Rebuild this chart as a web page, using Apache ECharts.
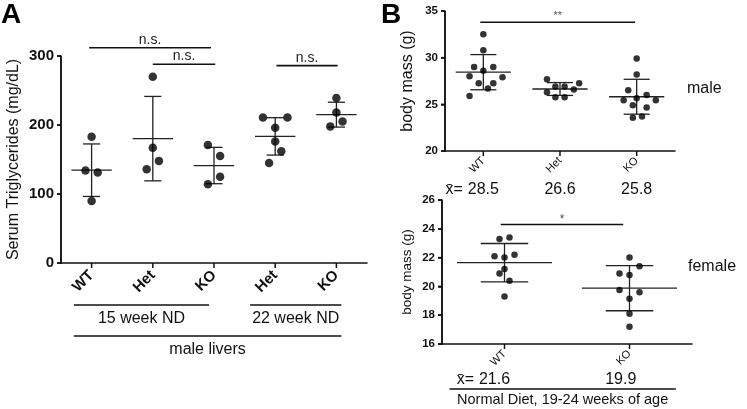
<!DOCTYPE html>
<html>
<head>
<meta charset="UTF-8">
<title>triglycerides and body mass</title>
<script src="https://cdn.jsdelivr.net/npm/echarts@6/dist/echarts.min.js"></script>
<style>
  html, body { margin: 0; padding: 0; background: #fff; }
  #main { width: 747px; height: 409px; }
</style>
</head>
<body>
<div id="main"></div>
<script>
// ---- panel A: serum triglycerides (mg/dL)
var catA = ['WT', 'Het', 'KO', 'Het', 'KO'];
var trigWT15  = [183, 134, 131, 90];
var trigHet15 = [270, 167, 148, 136];
var trigKO15  = [171, 155, 125, 114];
var trigHet22 = [211, 211, 196, 176, 162, 145];
var trigKO22  = [239, 218, 205, 198];
var trigTicks = [0, 100, 200, 300];

// ---- panel B: body mass (g)
var catMale = ['WT', 'Het', 'KO'];
var maleWT  = [32.5, 30.8, 29.0, 29.0, 28.6, 28.0, 27.9, 27.25, 27.25, 26.7, 25.9];
var maleHet = [27.7, 27.25, 26.9, 26.9, 26.6, 26.3, 25.75, 25.75];
var maleKO  = [29.9, 28.2, 26.5, 26.0, 25.45, 25.65, 25.45, 24.9, 24.65, 23.55, 23.7];
var maleMeans = ['28.5', '26.6', '25.8'];
var maleTicks = [20, 25, 30, 35];

var catFemale = ['WT', 'KO'];
var femaleWT = [23.3, 23.4, 22.1, 22.2, 22.0, 21.2, 20.9, 20.4, 19.3];
var femaleKO = [22.0, 21.4, 20.9, 20.8, 19.75, 19.6, 19.15, 18.1, 17.2];
var femaleMeans = ['21.6', '19.9'];
var femaleTicks = [16, 18, 20, 22, 24, 26];

// horizontal spread of the dots inside a column (layout only)
var jitA = [
  [0, -0.1, 0.1, 0],
  [0, 0, 0.1, -0.1],
  [-0.1, 0.1, 0.1, -0.1],
  [-0.2, 0.2, 0, 0, 0.1, -0.1],
  [0, 0, 0.1, -0.1]
];
var jitMale = [
  [0, 0, -0.12, 0.13, 0, -0.18, 0.25, -0.06, 0.13, 0.06, -0.18],
  [-0.17, 0.25, -0.06, 0.06, 0.18, -0.17, -0.06, 0.06],
  [0, 0, -0.11, 0.13, -0.17, 0, 0.25, -0.05, 0.13, -0.05, 0.07]
];
var jitFemale = [
  [-0.04, 0.04, -0.08, 0.08, 0, 0, -0.04, 0.04, 0],
  [0, 0.08, -0.08, 0, -0.08, 0.08, 0, 0, 0]
];

var FONT = 'Liberation Sans, Arial, DejaVu Sans, sans-serif';

function mean(a) {
  var s = 0;
  for (var i = 0; i < a.length; i++) s += a[i];
  return s / a.length;
}
function sd(a) {
  var m = mean(a), s = 0;
  for (var i = 0; i < a.length; i++) s += (a[i] - m) * (a[i] - m);
  return Math.sqrt(s / (a.length - 1));
}

function dots(groups, jit) {
  var out = [];
  for (var g = 0; g < groups.length; g++) {
    for (var k = 0; k < groups[g].length; k++) {
      out.push([g + jit[g][k], groups[g][k]]);
    }
  }
  return out;
}
function bars(groups) {
  return groups.map(function (a, g) {
    var m = mean(a), s = sd(a);
    return [g, m, m - s, m + s];
  });
}

function errRender(meanW, capW) {
  return function (params, api) {
    var c = api.value(0);
    var pm = api.coord([c, api.value(1)]);
    var pl = api.coord([c, api.value(2)]);
    var ph = api.coord([c, api.value(3)]);
    var u = api.size([1, 0])[0];
    var st = { stroke: '#222', lineWidth: 1.3 };
    return {
      type: 'group',
      children: [
        { type: 'line', shape: { x1: pm[0] - meanW * u, y1: pm[1], x2: pm[0] + meanW * u, y2: pm[1] }, style: st },
        { type: 'line', shape: { x1: pl[0], y1: pl[1], x2: ph[0], y2: ph[1] }, style: st },
        { type: 'line', shape: { x1: pl[0] - capW * u, y1: pl[1], x2: pl[0] + capW * u, y2: pl[1] }, style: st },
        { type: 'line', shape: { x1: ph[0] - capW * u, y1: ph[1], x2: ph[0] + capW * u, y2: ph[1] }, style: st }
      ]
    };
  };
}

// significance bar; the first item also draws the y spine and the outward ticks
function sigRender(fontSize, color, gap, ticks, ncol) {
  return function (params, api) {
    var p1 = api.coord([api.value(0), api.value(2)]);
    var p2 = api.coord([api.value(1), api.value(2)]);
    var kids = [
      { type: 'line', shape: { x1: p1[0], y1: p1[1], x2: p2[0], y2: p2[1] }, style: { stroke: '#111', lineWidth: 1.6 } },
      { type: 'text', x: (p1[0] + p2[0]) / 2, y: p1[1] - gap,
        style: { text: api.value(3), fill: color, font: fontSize + 'px ' + FONT, align: 'center', verticalAlign: 'middle' } }
    ];
    if (params.dataIndex === 0) {
      var cs = params.coordSys;
      var b = cs.y + cs.height;
      var st = { stroke: '#111', lineWidth: 1.5 };
      kids.push({ type: 'line', shape: { x1: cs.x, y1: cs.y, x2: cs.x, y2: b + 0.75 }, style: st });
      for (var i = 0; i < ticks.length; i++) {
        var y = api.coord([0, ticks[i]])[1];
        kids.push({ type: 'line', shape: { x1: cs.x - 4, y1: y, x2: cs.x, y2: y }, style: st });
      }
      for (var c = 0; c < ncol; c++) {
        var x = api.coord([c, ticks[0]])[0];
        kids.push({ type: 'line', shape: { x1: x, y1: b, x2: x, y2: b + 5 }, style: st });
      }
    }
    return { type: 'group', children: kids };
  };
}

// line + caption below the x axis; value(2) = pixels under the axis
function underRender(fontSize, textGap) {
  return function (params, api) {
    var cs = params.coordSys;
    var bottom = cs.y + cs.height + api.value(2);
    var x1 = api.coord([api.value(0), 0])[0];
    var x2 = api.coord([api.value(1), 0])[0];
    return {
      type: 'group',
      children: [
        { type: 'line', shape: { x1: x1, y1: bottom, x2: x2, y2: bottom }, style: { stroke: '#111', lineWidth: 1.6 } },
        { type: 'text', x: (x1 + x2) / 2, y: bottom + textGap,
          style: { text: api.value(3), fill: '#111', font: fontSize + 'px ' + FONT, align: 'center', verticalAlign: 'middle' } }
      ]
    };
  };
}

// x-bar mean captions under panel B columns
function meanRender(dy) {
  return function (params, api) {
    var cs = params.coordSys;
    var x = api.coord([api.value(0), 0])[0];
    var y = cs.y + cs.height + dy;
    var kids = [
      { type: 'text', x: x, y: y,
        style: { text: api.value(1), fill: '#111', font: '16px ' + FONT, align: 'center', verticalAlign: 'middle' } }
    ];
    if (params.dataIndex === 0) {
      kids.push({ type: 'text', x: x - 16, y: y,
        style: { text: 'x\u0304= ', fill: '#111', font: '16px ' + FONT, align: 'right', verticalAlign: 'middle' } });
    }
    return { type: 'group', children: kids };
  };
}

// x axis: value scale over column indices, names only at the columns
function colAxis(grid, names, fs, bold, margin) {
  var idx = names.map(function (n, i) { return i; });
  return {
    type: 'value', gridIndex: grid, min: -0.5, max: names.length - 0.5,
    axisLine: { show: true, onZero: false, lineStyle: { color: '#111', width: 1.5 } },
    axisTick: { show: false },
    axisLabel: {
      rotate: 45, margin: margin, color: '#111', fontSize: fs, fontWeight: bold ? 'bold' : 'normal', fontFamily: FONT,
      customValues: idx,
      formatter: function (v) { return names[Math.round(v)]; }
    },
    splitLine: { show: false }
  };
}
function valAxis(grid, ticks, step, name, nameFs, gap, labelFs) {
  return {
    type: 'value', gridIndex: grid, min: ticks[0], max: ticks[ticks.length - 1], interval: step,
    name: name, nameLocation: 'middle', nameGap: gap,
    nameTextStyle: { color: '#111', fontSize: nameFs, fontFamily: FONT },
    axisLine: { show: true, onZero: false, lineStyle: { color: '#111', width: 1.5 } },
    axisTick: { show: true, length: 4, lineStyle: { color: '#111', width: 1.5 } },
    axisLabel: { color: '#111', fontSize: labelFs, fontWeight: 'bold', fontFamily: FONT, margin: 7 },
    splitLine: { show: false }
  };
}

var groupsA = [trigWT15, trigHet15, trigKO15, trigHet22, trigKO22];
var groupsM = [maleWT, maleHet, maleKO];
var groupsF = [femaleWT, femaleKO];

var chart = echarts.init(document.getElementById('main'), null, { renderer: 'canvas' });
var option = {
  backgroundColor: '#fff',
  animation: false,
  grid: [
    { left: 61, top: 56, width: 306, height: 207 },
    { left: 445, top: 11, width: 230, height: 140 },
    { left: 442, top: 200, width: 250, height: 144 }
  ],
  xAxis: [
    colAxis(0, catA, 15, true, 10),
    colAxis(1, catMale, 11, false, 8),
    colAxis(2, catFemale, 11, false, 8)
  ],
  yAxis: [
    valAxis(0, trigTicks, 100, 'Serum Triglycerides (mg/dL)', 16, 39, 15),
    valAxis(1, maleTicks, 5, 'body mass (g)', 16, 29, 11.5),
    valAxis(2, femaleTicks, 2, 'body mass (g)', 13.5, 28, 11.5)
  ],
  graphic: [
    { type: 'text', left: 1, top: 1, style: { text: 'A', font: 'bold 28px ' + FONT, fill: '#000' } },
    { type: 'text', left: 381, top: 1, style: { text: 'B', font: 'bold 28px ' + FONT, fill: '#000' } },
    { type: 'text', left: 687, top: 81, style: { text: 'male', font: '16px ' + FONT, fill: '#111' } },
    { type: 'text', left: 688, top: 259, style: { text: 'female', font: '16px ' + FONT, fill: '#111' } }
  ],
  series: [
    // panel A
    { type: 'scatter', xAxisIndex: 0, yAxisIndex: 0, symbolSize: 8.5, itemStyle: { color: '#000' }, data: dots(groupsA, jitA), z: 3 },
    { type: 'custom', xAxisIndex: 0, yAxisIndex: 0, renderItem: errRender(0.33, 0.14), data: bars(groupsA), z: 2 },
    { type: 'custom', xAxisIndex: 0, yAxisIndex: 0, clip: false, z: 10,
      renderItem: sigRender(14, '#222', 8, trigTicks, catA.length),
      data: [[-0.04, 1.95, 312, 'n.s.'], [1, 2.02, 288, 'n.s.'], [3.02, 4.02, 286, 'n.s.']] },
    { type: 'custom', xAxisIndex: 0, yAxisIndex: 0, clip: false, renderItem: underRender(16, 14),
      data: [[-0.29, 1.92, 42, '15 week ND'], [2.59, 4.08, 42, '22 week ND'], [-0.29, 4.08, 73, 'male livers']] },

    // panel B male
    { type: 'scatter', xAxisIndex: 1, yAxisIndex: 1, symbolSize: 6.5, itemStyle: { color: '#000' }, data: dots(groupsM, jitMale), z: 3 },
    { type: 'custom', xAxisIndex: 1, yAxisIndex: 1, renderItem: errRender(0.36, 0.17), data: bars(groupsM), z: 2 },
    { type: 'custom', xAxisIndex: 1, yAxisIndex: 1, clip: false, z: 10,
      renderItem: sigRender(11, '#555', 6, maleTicks, catMale.length),
      data: [[-0.04, 1.98, 33.8, '**']] },
    { type: 'custom', xAxisIndex: 1, yAxisIndex: 1, clip: false, renderItem: meanRender(39),
      data: maleMeans.map(function (t, i) { return [i, t]; }) },

    // panel B female
    { type: 'scatter', xAxisIndex: 2, yAxisIndex: 2, symbolSize: 6.5, itemStyle: { color: '#000' }, data: dots(groupsF, jitFemale), z: 3 },
    { type: 'custom', xAxisIndex: 2, yAxisIndex: 2, renderItem: errRender(0.38, 0.19), data: bars(groupsF), z: 2 },
    { type: 'custom', xAxisIndex: 2, yAxisIndex: 2, clip: false, z: 10,
      renderItem: sigRender(12, '#555', 5, femaleTicks, catFemale.length),
      data: [[-0.03, 0.95, 24.3, '*']] },
    { type: 'custom', xAxisIndex: 2, yAxisIndex: 2, clip: false, renderItem: meanRender(36),
      data: [[-0.08, femaleMeans[0]], [0.93, femaleMeans[1]]] },
    { type: 'custom', xAxisIndex: 2, yAxisIndex: 2, clip: false, renderItem: underRender(14.5, 11),
      data: [[-0.44, 1.37, 45, 'Normal Diet, 19-24 weeks of age']] }
  ]
};
chart.setOption(option);
</script>
</body>
</html>
